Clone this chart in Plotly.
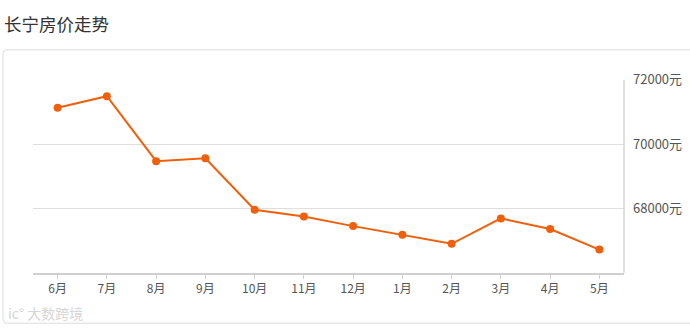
import plotly.graph_objects as go

months = ["6月", "7月", "8月", "9月", "10月", "11月", "12月", "1月", "2月", "3月", "4月", "5月"]
prices = [71130, 71490, 69470, 69560, 67960, 67750, 67450, 67180, 66900, 67690, 67360, 66720]
y_ticks = [68000, 70000, 72000]
y_tick_text = ["68000元", "70000元", "72000元"]

W, H = 690, 328
def px(x):
    return x / W
def py(y):
    return 1 - y / H

fig = go.Figure()
fig.add_trace(go.Scatter(
    x=months, y=prices, mode="lines+markers",
    line=dict(color="#f0600c", width=2),
    marker=dict(color="#f0600c", size=8),
    hoverinfo="x+y", showlegend=False,
))

x0, y0, x1, y1, r = 3, 41, 700, 323, 4
path = (f"M {px(x0+r)},{py(y0)} L {px(x1)},{py(y0)} L {px(x1)},{py(y1)} "
        f"L {px(x0+r)},{py(y1)} Q {px(x0)},{py(y1)} {px(x0)},{py(y1-r)} "
        f"L {px(x0)},{py(y0+r)} Q {px(x0)},{py(y0)} {px(x0+r)},{py(y0)} Z")
shapes = [
    dict(type="path", xref="paper", yref="paper", path=path,
         line=dict(color="#dcdcdc", width=1), layer="below"),
    dict(type="line", xref="paper", yref="paper", x0=px(624), x1=px(624), y0=py(72), y1=py(271),
         line=dict(color="#d4d4d4", width=1.5)),
]

fig.update_layout(
    width=W, height=H,
    margin=dict(l=0, r=0, t=0, b=0),
    paper_bgcolor="white", plot_bgcolor="white",
    font=dict(family="Noto Sans CJK SC, Open Sans, sans-serif", color="#555"),
    shapes=shapes,
    xaxis=dict(
        domain=[px(33), px(624)],
        type="category", range=[-0.5, 11.5],
        showgrid=False, zeroline=False,
        showline=True, linecolor="#d0d0d0", linewidth=2,
        ticks="outside", ticklen=4, tickcolor="#d0d0d0", tickwidth=1,
        tickfont=dict(size=12, color="#555"),
        fixedrange=True,
    ),
    yaxis=dict(
        domain=[py(271), py(72)],
        range=[66000, 72000], side="right",
        tickvals=y_ticks, ticktext=y_tick_text,
        showgrid=True, gridcolor="#dedede", gridwidth=1,
        zeroline=False, showline=False, ticks="",
        tickfont=dict(size=13, color="#555"),
        ticklabelstandoff=8,
        fixedrange=True,
    ),
    annotations=[
        dict(text="长宁房价走势", x=px(2), y=py(14), xref="paper", yref="paper",
             xanchor="left", yanchor="middle", showarrow=False,
             font=dict(size=17.5, color="#333")),
        dict(text="ic° 大数跨境", x=px(6), y=py(313), xref="paper", yref="paper",
             xanchor="left", yanchor="middle", showarrow=False,
             font=dict(size=14, color="#d6d6d6")),
    ],
)

fig.write_html("out.html")
